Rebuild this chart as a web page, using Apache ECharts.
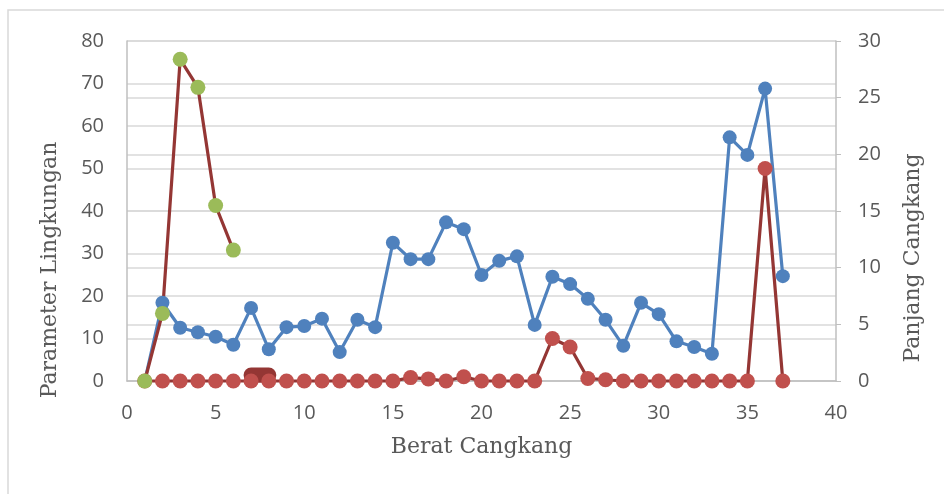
<!DOCTYPE html>
<html>
<head>
<meta charset="utf-8">
<script src="https://cdn.jsdelivr.net/npm/echarts@6/dist/echarts.min.js"></script>
<style>
  html, body { margin: 0; padding: 0; background: #fff; }
  #main { width: 944px; height: 494px; }
</style>
</head>
<body>
<div id="main"></div>
<script>
// x values (Berat Cangkang)
var xValues = [1,2,3,4,5,6,7,8,9,10,11,12,13,14,15,16,17,18,19,20,21,22,23,24,25,26,27,28,29,30,31,32,33,34,35,36,37];
// blue series, right axis (Panjang Cangkang)
var blueValues = [0,6.9,4.7,4.3,3.9,3.2,6.45,2.8,4.75,4.85,5.5,2.55,5.4,4.75,12.2,10.75,10.75,14.0,13.4,9.35,10.6,11.0,4.95,9.2,8.55,7.25,5.4,3.1,6.9,5.9,3.5,3.0,2.4,21.5,19.95,25.8,9.25];
// red series, left axis
var redValues = [0,0,0,0,0,0,0,0,0,0,0,0,0,0,0,0.8,0.5,0,1.0,0,0,0,0,10,8,0.6,0.3,0,0,0,0,0,0,0,0,50,0];
// green series, left axis (first six points)
var greenX = [1,2,3,4,5,6];
var greenValues = [0,15.9,75.7,69.1,41.3,30.8];
// short thick dark red segment near x=7..8
var blobX = [7,8];
var blobValues = [1.4,1.4];

function pairs(xs, ys){
  var out = [];
  for (var i = 0; i < xs.length; i++) out.push([xs[i], ys[i]]);
  return out;
}

var labelFont = 'Open Sans';
var titleFont = 'DejaVu Serif';

var chart = echarts.init(document.getElementById('main'));
var option = {
  animation: false,
  backgroundColor: '#fff',
  grid: { left: 127, right: 108, top: 41, bottom: 113 },
  xAxis: {
    type: 'value', min: 0, max: 40, interval: 5,
    name: 'Berat Cangkang', nameLocation: 'middle', nameGap: 55,
    nameTextStyle: { fontFamily: titleFont, fontSize: 22, color: '#595959' },
    axisLine: { show: true, lineStyle: { color: '#bfbfbf', width: 1.5 } },
    axisTick: { show: false },
    axisLabel: { margin: 22, fontFamily: labelFont, fontSize: 20, color: '#595959' },
    splitLine: { show: false }
  },
  yAxis: [
    {
      type: 'value', min: 0, max: 80, interval: 10, position: 'left',
      axisLine: { show: true, lineStyle: { color: '#bfbfbf', width: 1.5 } },
      axisTick: { show: false },
      axisLabel: { margin: 23, fontFamily: labelFont, fontSize: 20, color: '#595959' },
      splitLine: { show: true, lineStyle: { color: '#d9d9d9', width: 1.5 } }
    },
    {
      type: 'value', min: 0, max: 30, interval: 5, position: 'right',
      axisLine: { show: true, lineStyle: { color: '#bfbfbf', width: 1.5 } },
      axisTick: { show: true, inside: false, length: 5, lineStyle: { color: '#bfbfbf' } },
      axisLabel: { margin: 22, fontFamily: labelFont, fontSize: 20, color: '#595959' },
      splitLine: { show: true, lineStyle: { color: '#d9d9d9', width: 1.5 } }
    }
  ],
  graphic: [
    {
      type: 'rect', shape: { x: 8, y: 10, width: 960, height: 520 }, silent: true,
      style: { fill: 'none', stroke: '#d9d9d9', lineWidth: 1.5 }
    },
    {
      type: 'text', x: 50, y: 270, rotation: Math.PI / 2,
      style: { text: 'Parameter Lingkungan', fontFamily: titleFont, fontSize: 22, fill: '#595959',
        align: 'center', verticalAlign: 'middle' }
    },
    {
      type: 'text', x: 913, y: 258, rotation: Math.PI / 2,
      style: { text: 'Panjang Cangkang', fontFamily: titleFont, fontSize: 22, fill: '#595959',
        align: 'center', verticalAlign: 'middle' }
    }
  ],
  series: [
    {
      name: 'Panjang', type: 'line', yAxisIndex: 1, clip: false,
      data: pairs(xValues, blueValues),
      symbol: 'circle', symbolSize: 14,
      lineStyle: { color: '#4f81bd', width: 3.2 },
      itemStyle: { color: '#4f81bd' }
    },
    {
      name: 'blob', type: 'line', yAxisIndex: 0, clip: false,
      data: pairs(blobX, blobValues),
      showSymbol: false, symbol: 'none',
      lineStyle: { color: '#943634', width: 15, cap: 'round' }
    },
    {
      name: 'Parameter', type: 'line', yAxisIndex: 0, clip: false,
      data: pairs(xValues, redValues),
      symbol: 'circle', symbolSize: 15,
      lineStyle: { color: '#943634', width: 3.2 },
      itemStyle: { color: '#c0504d' }
    },
    {
      name: 'Awal', type: 'line', yAxisIndex: 0, clip: false,
      data: pairs(greenX, greenValues),
      symbol: 'circle', symbolSize: 15,
      lineStyle: { color: '#943634', width: 3.2 },
      itemStyle: { color: '#9bbb59' }
    }
  ]
};
chart.setOption(option);
</script>
</body>
</html>
